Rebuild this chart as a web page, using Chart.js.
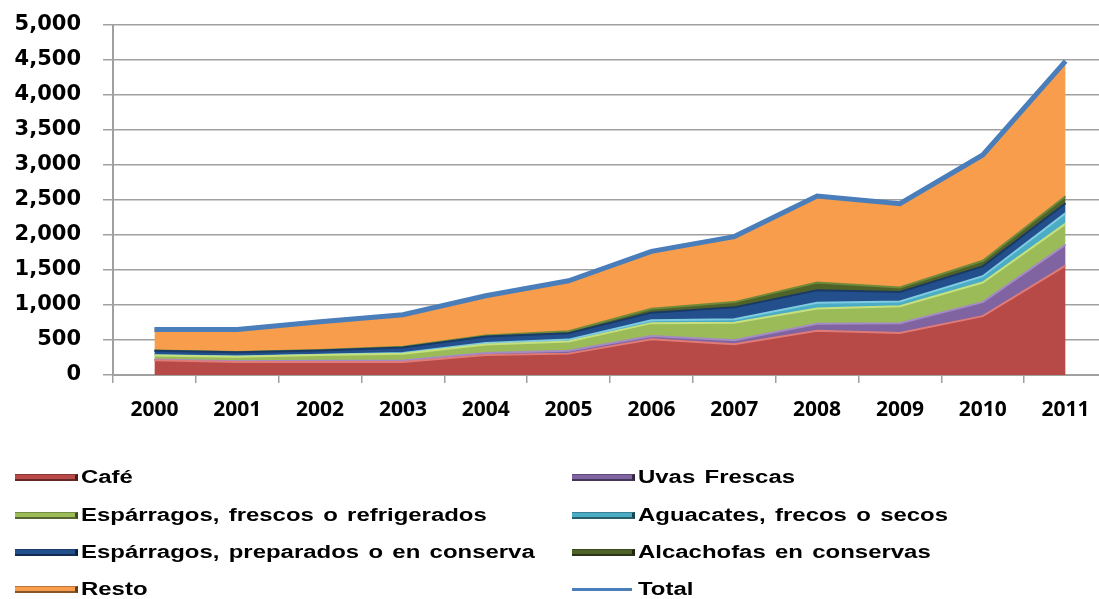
<!DOCTYPE html>
<html><head><meta charset="utf-8">
<script src="https://cdn.jsdelivr.net/npm/chart.js@4.4.0/dist/chart.umd.min.js"></script>
<style>
html,body{margin:0;padding:0;background:#fff;overflow:hidden;width:1099px;height:599px;}
#wrap{position:absolute;left:0;top:-10px;width:1110px;height:450px;}
#legend{position:absolute;left:0;top:0;width:1099px;height:599px;}
.sw{position:absolute;height:7px;box-sizing:border-box;}
.ln{position:absolute;height:3px;}
.lbl{position:absolute;font:bold 18px "Liberation Sans",Arial,sans-serif;color:#000;white-space:pre;transform:scaleX(1.33);transform-origin:left center;line-height:20px;word-spacing:2px;}
</style>
</head><body>
<div id="wrap"><canvas id="c" width="1110" height="450"></canvas></div>
<div id="legend"></div>
<script>
const years = ['2000','2001','2002','2003','2004','2005','2006','2007','2008','2009','2010','2011'];
const cafe      = [210, 185, 185, 185, 285, 305, 510, 440, 630, 600, 840, 1560];
const uvas      = [10, 12, 20, 23, 30, 42, 45, 55, 100, 140, 200, 300];
const esparragF = [60, 65, 80, 95, 120, 130, 185, 250, 220, 240, 280, 300];
const aguacates = [2, 3, 5, 11, 23, 28, 40, 50, 80, 70, 90, 150];
const esparragP = [65, 60, 60, 80, 90, 92, 110, 170, 180, 135, 140, 140];
const alcachofas= [2, 3, 5, 8, 15, 28, 55, 75, 110, 65, 80, 100];
const resto     = [301, 320, 405, 458, 567, 720, 820, 935, 1235, 1195, 1510, 1930];
const total     = [650, 648, 760, 860, 1130, 1345, 1765, 1975, 2555, 2445, 3140, 4480];
const yMax = 5000, yStep = 500;

function area(label, data, fill, edge, fillMode){
  return {label, data, stack:'a', backgroundColor: fill, borderColor: edge, borderWidth: 2,
    fill: fillMode, pointRadius: 0, tension: 0, order: 1};
}
const datasets = [
  area('Café', cafe, '#B74A46', '#E07A76', 'origin'),
  area('Uvas Frescas', uvas, '#8064A2', '#A58BC4', '-1'),
  area('Espárragos, frescos o refrigerados', esparragF, '#9BBB59', '#C6E07F', '-1'),
  area('Aguacates, frecos o secos', aguacates, '#4BACC6', '#7FCBE0', '-1'),
  area('Espárragos, preparados o en conserva', esparragP, '#23508C', '#1A3A66', '-1'),
  area('Alcachofas en conservas', alcachofas, '#4F6228', '#6E8A3A', '-1'),
  area('Resto', resto, '#F89D4C', '#FBD58E', '-1'),
  {label:'Total', data: total, stack:'t', borderColor:'#4A7EBB', backgroundColor:'#4A7EBB',
   borderWidth: 5, fill:false, pointRadius:0, tension:0, order:0}
];

const grid = '#A0A0A0';
const chart = new Chart(document.getElementById('c'), {
  type: 'line',
  data: {labels: years, datasets},
  options: {
    responsive: false, animation: false, devicePixelRatio: 1,
    layout: {padding: {top: 13, right: 3, left: 0, bottom: 0}},
    plugins: {legend: {display: false}, tooltip: {enabled: false}},
    scales: {
      x: {
        type: 'category', offset: true,
        grid: {offset: true, drawOnChartArea: false, tickLength: 8, color: grid, lineWidth: 1.5},
        border: {color: grid, width: 2},
        ticks: {font: {family: 'Open Sans', weight: 'bold', size: 21}, color: '#000', padding: 14, maxRotation: 0, autoSkip: false},
        afterFit: s => { s.height = 65; }
      },
      y: {
        stacked: true, min: 0, max: yMax,
        ticks: {stepSize: yStep, font: {family: 'DejaVu Sans', weight: 'bold', size: 21}, color: '#000', padding: 22,
          callback: v => Number(v).toLocaleString('en-US')},
        grid: {color: grid, lineWidth: 1.5, tickLength: 10},
        border: {color: grid, width: 2},
        afterFit: s => { s.width = 113; }
      }
    }
  }
});

// HTML legend, two columns
const legPos = [[15,477],[572,477],[15,515],[572,515],[15,552],[572,552],[15,589],[572,589]];
const leg = document.getElementById('legend');
chart.data.datasets.forEach((ds, i) => {
  const [x, y] = legPos[i];
  const sw = document.createElement('div');
  if (ds.label === 'Total') {
    sw.className = 'ln';
    sw.style.left = x + 'px'; sw.style.top = (y - 1) + 'px'; sw.style.width = '60px';
    sw.style.background = ds.borderColor;
  } else {
    sw.className = 'sw';
    sw.style.left = x + 'px'; sw.style.top = (y - 3) + 'px'; sw.style.width = '63px';
    sw.style.background = ds.backgroundColor;
    sw.style.borderTop = '1px solid rgba(0,0,0,0.25)';
    sw.style.borderBottom = '2px solid rgba(0,0,0,0.45)';
    sw.style.borderRight = '3px solid rgba(0,0,0,0.6)';
  }
  leg.appendChild(sw);
  const t = document.createElement('div');
  t.className = 'lbl';
  t.textContent = ds.label;
  t.style.left = (x + 66) + 'px'; t.style.top = (y - 10) + 'px';
  leg.appendChild(t);
});
</script>
</body></html>
